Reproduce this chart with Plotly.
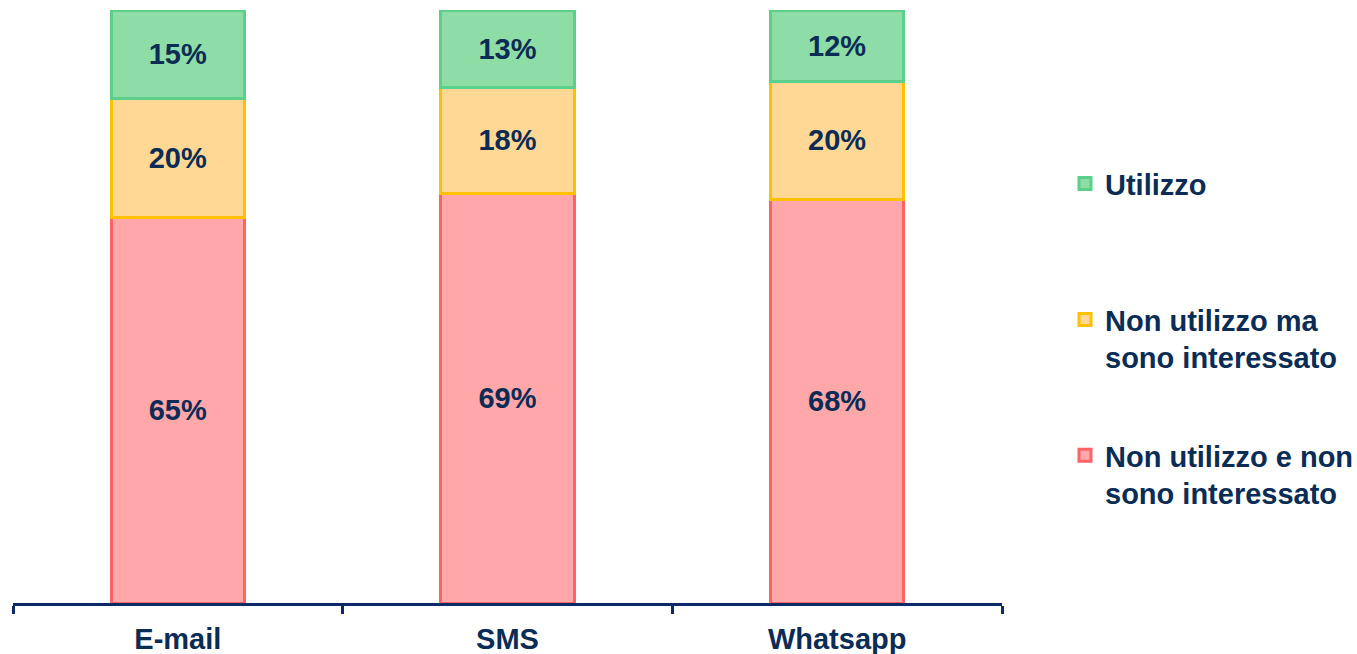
import plotly.graph_objects as go

categories = ["E-mail", "SMS", "Whatsapp"]
non_interessato = [65, 69, 68]
interessato = [20, 18, 20]
utilizzo = [15, 13, 12]

series_names = ["Non utilizzo e non<br>sono interessato", "Non utilizzo ma<br>sono interessato", "Utilizzo"]
fills = ["#FFA7A9", "#FED894", "#8EDCA6"]
borders = ["#FF6464", "#FFC000", "#5CD08A"]

NAVY = "#0B2C55"
FONT = "Liberation Sans, Arial, sans-serif"
FS = 29

fig = go.Figure()
series = [non_interessato, interessato, utilizzo]
legends = ["legend3", "legend2", "legend"]
for vals, name, fc, bc, lg in zip(series, series_names, fills, borders, legends):
    fig.add_trace(go.Bar(
        x=categories, y=vals, name=name,
        marker=dict(color=fc, line=dict(color=bc, width=3)),
        width=0.405,
        text=[f"{v}%" for v in vals],
        textposition="inside", insidetextanchor="middle", textangle=0,
        constraintext="none",
        textfont=dict(family=FONT, size=FS, color=NAVY, weight="bold"),
        legend=lg,
    ))

leg_common = dict(
    xanchor="left", yanchor="top", valign="top",
    font=dict(family=FONT, size=FS, color=NAVY, weight="bold"),
    bgcolor="rgba(0,0,0,0)", itemclick=False,
)
fig.update_layout(
    barmode="stack",
    width=1357, height=654,
    margin=dict(l=13, r=355, t=10, b=51, autoexpand=False),
    plot_bgcolor="white", paper_bgcolor="white",
    showlegend=True,
    legend=dict(x=1.0637, y=0.750, **leg_common),
    legend2=dict(x=1.0637, y=0.521, **leg_common),
    legend3=dict(x=1.0637, y=0.292, **leg_common),
    xaxis=dict(
        range=[-0.5, 2.5], showline=True, linecolor="#0B2A66", linewidth=3,
        ticks="outside", tickson="boundaries", ticklen=8, tickwidth=3, tickcolor="#0B2A66",
        tickfont=dict(family=FONT, size=FS, color=NAVY, weight="bold"),
        ticklabelstandoff=8,
        showgrid=False, zeroline=False,
    ),
    yaxis=dict(range=[0, 100], visible=False, showgrid=False, zeroline=False),
)

fig.write_html(
    "out.html",
    config={"displayModeBar": False},
    post_script="document.body.style.margin='0';document.body.style.overflow='hidden';",
)
